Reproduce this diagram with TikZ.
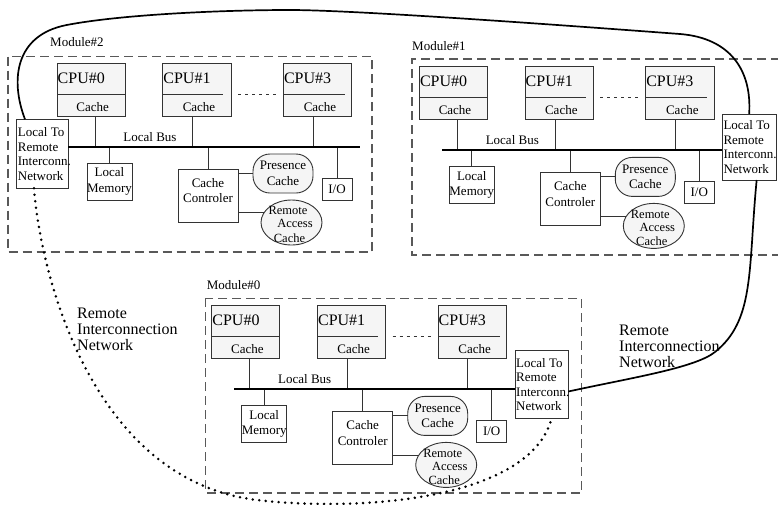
\documentclass[tikz,border=0pt]{standalone}
\usepackage{fontspec}
\setmainfont{Liberation Serif}
\usetikzlibrary{calc,shapes.geometric}

\tikzset{
 box/.style={draw=black!80, line width=0.9pt, inner sep=0pt, outer sep=0pt, fill=white, rectangle},
 cpubox/.style={box, fill=black!4},
 pcbox/.style={box, fill=black!4, rounded corners=17pt},
 rabox/.style={draw=black!80, line width=0.9pt, inner sep=0pt, outer sep=0pt, fill=black!4, ellipse},
 wire/.style={draw=black!80, line width=0.9pt},
 busline/.style={draw=black, line width=2.4pt},
 frame/.style={draw=black!65, line width=1.1pt, dash pattern=on 9pt off 5pt},
 netline/.style={draw=black, line width=1.7pt},
 dotline/.style={draw=black, line width=2.8pt, dash pattern=on 0pt off 6.5pt, line cap=round},
 txt/.style={font=\fontsize{13}{15.5}\selectfont, inner sep=0pt, align=center},
 ratxt/.style={font=\fontsize{12.5}{14}\selectfont, inner sep=0pt},
 cputxt/.style={font=\fontsize{16}{18}\selectfont, inner sep=0pt, anchor=west},
 bigtxt/.style={font=\fontsize{16}{16}\selectfont, inner sep=0pt, align=left, anchor=west},
 ltrtxt/.style={font=\fontsize{13}{14.5}\selectfont, inner sep=0pt, align=left, anchor=west},
}

\newcommand\mkbox[6]{\node[#1, minimum width={(#5)-(#3)}, minimum height={(#6)-(#4)}] (#2) at ({((#3)+(#5))/2},{((#4)+(#6))/2}) {};}

\newcommand\drawmodule[3]{%
\begin{scope}[shift={(#2,#3)}]
 \coordinate (#1bus) at (0,83.4);
 \coordinate (#1busstart) at (22.7,83.4);
 \coordinate (#1busend) at (303,83.4);
 \mkbox{cpubox}{#1c0}{0}{0}{68}{53}
 \mkbox{cpubox}{#1c1}{105.7}{0}{174}{53}
 \mkbox{cpubox}{#1c3}{226.3}{0}{294.7}{53}
 \draw[wire] (0,30.7) -- (68,30.7);
 \draw[wire] (105.7,30.7) -- (166.3,30.7);
 \draw[wire] (226.3,30.7) -- (288,30.7);
 \draw[wire, dash pattern=on 3pt off 4pt] (181,30.7) -- (221,30.7);
 \node[cputxt] at (0.5,15) {CPU\#0};
 \node[cputxt] at (106.2,15) {CPU\#1};
 \node[cputxt] at (226.8,15) {CPU\#3};
 \node[txt] at (35.7,43.4) {Cache};
 \node[txt] at (142,43.4) {Cache};
 \node[txt] at (263,43.4) {Cache};
 \node[txt] at (93,73.7) {Local Bus};
 \mkbox{box}{#1lm}{30}{99.7}{75}{136.7}
 \mkbox{box}{#1cc}{121}{106}{181}{158.7}
 \mkbox{box}{#1io}{265}{114.7}{295}{136.7}
 \mkbox{pcbox}{#1pc}{196}{90.7}{256}{129.7}
 \mkbox{rabox}{#1ra}{204}{136.7}{265}{181.7}
 \node[txt] at (#1lm) {Local\\Memory};
 \node[txt] at ($(#1cc)+(0,-5)$) {Cache\\Controler};
 \node[txt] at (#1io) {I/O};
 \node[txt] at (#1pc) {Presence\\Cache};
 \node[ratxt] at (231,147.3) {Remote};
 \node[ratxt] at (238,160.6) {Access};
 \node[ratxt] at (232.5,174.8) {Cache};
 \draw[wire] ([xshift=4pt]#1c0.south) -- ([xshift=4pt]#1c0.south |- #1bus);
 \draw[wire] ([xshift=-4pt]#1c1.south) -- ([xshift=-4pt]#1c1.south |- #1bus);
 \draw[wire] ([xshift=-4.5pt]#1c3.south) -- ([xshift=-4.5pt]#1c3.south |- #1bus);
 \draw[wire] (#1lm.north) -- (#1lm.north |- #1bus);
 \draw[wire] (#1cc.north) -- (#1cc.north |- #1bus);
 \draw[wire] (#1io.north) -- (#1io.north |- #1bus);
 \draw[wire] (#1cc.east |- #1pc.west) -- (#1pc.west);
 \draw[wire] (#1cc.east |- #1ra.160) -- (#1ra.160);
\end{scope}}

\begin{document}
\begin{tikzpicture}[x=1pt, y=-1pt]
\useasboundingbox (0,0) rectangle (778,504);
\clip (0,0) rectangle (778,504);

% module frames
\draw[frame] (8,56.7) rectangle (372,252);
\draw[frame] (780,59) -- (412,59) -- (412,255) -- (780,255);
\draw[frame] (205.7,298.3) rectangle (581.7,493);

\node[txt, anchor=west] (lab2) at (50,42) {Module\#2};
\node[txt, anchor=west] (lab1) at (412,46) {Module\#1};
\node[txt, anchor=west] (lab0) at (206.7,285) {Module\#0};

% modules
\drawmodule{m2}{57}{63.3}
\drawmodule{m1}{419.3}{66.7}
\drawmodule{m0}{211.7}{305.7}

% local-to-remote boxes
\mkbox{box}{m2ltr}{16.7}{119.3}{68.3}{188.3}
\mkbox{box}{m1ltr}{722.3}{114}{776}{180}
\mkbox{box}{m0ltr}{515}{350.7}{568.3}{418.3}
\foreach \n in {m2ltr,m1ltr,m0ltr}
  \node[ltrtxt] at ($(\n.west)+(1,0)$) {Local To\\Remote\\Interconn.\\Network};

% buses
\draw[busline] (m2ltr.east |- m2bus) -- (m2busend);
\draw[busline] (m1busstart) -- (m1ltr.west |- m1bus);
\draw[busline] (m0busstart) -- (m0ltr.west |- m0bus);

% remote interconnection network
\draw[netline] ($(m2ltr.north)+(-17.5,0)$)
  .. controls (10,80) and (15,35) .. (66.7,25)
  .. controls (120,14.7) and (220,10) .. (290,10)
  .. controls (360,10) and (600,28) .. (680,34)
  .. controls (730,38) and (752,70) .. (m1ltr.north);
\draw[netline] ($(m1ltr.south)+(7.5,0)$)
  .. controls (748,270) and (755,320) .. (715,352)
  .. controls (695,368) and (630,378) .. ($(m0ltr.east)+(0,7)$);
\draw[dotline] ($(m2ltr.south)+(-8.5,0)$)
  .. controls (40,270) and (90,480) .. (257,500)
  .. controls (360,512) and (530,500) .. ($(m0ltr.south)+(10,0)$);

\node[bigtxt] (rin1) at (77,329.5) {Remote\\Interconnection\\Network};
\node[bigtxt] (rin2) at (619,346) {Remote\\Interconnection\\Network};
\end{tikzpicture}
\end{document}
